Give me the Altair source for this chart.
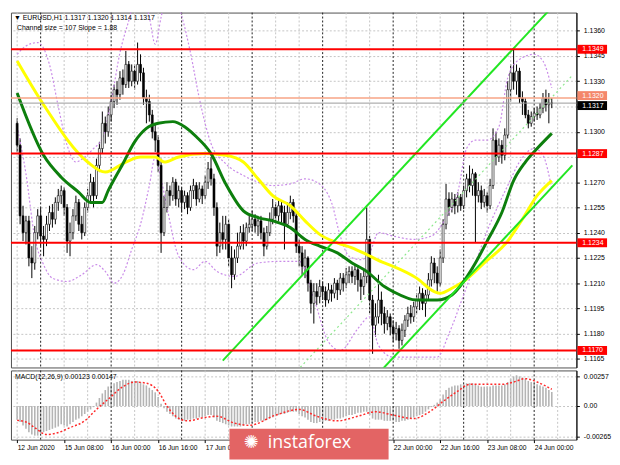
import json
import altair as alt
import pandas as pd

FONT = "Liberation Sans"

# ---------------- price data (EURUSD H1) ----------------
first_open = 1.1305
close = [
    1.1292, 1.1250, 1.1240, 1.1247, 1.1225, 1.1222, 1.1240, 1.1250, 1.1238, 1.1236,
    1.1245, 1.1252, 1.1248, 1.1258, 1.1262, 1.1265, 1.1255, 1.1235, 1.1240, 1.1250,
    1.1258, 1.1245, 1.1240, 1.1255, 1.1262, 1.1270, 1.1262, 1.1280, 1.1290, 1.1305,
    1.1300, 1.1310, 1.1318, 1.1325, 1.1322, 1.1332, 1.1328, 1.1340, 1.1330, 1.1336,
    1.1330, 1.1340, 1.1335, 1.1320, 1.1318, 1.1310, 1.1300, 1.1295, 1.1280, 1.1240,
    1.1255, 1.1265, 1.1262, 1.1270, 1.1260, 1.1265, 1.1258, 1.1262, 1.1255, 1.1265,
    1.1268, 1.1260, 1.1266, 1.1262, 1.1270, 1.1278, 1.1272, 1.1255, 1.1232, 1.1240,
    1.1236, 1.1245, 1.1225, 1.1215, 1.1225, 1.1232, 1.1240, 1.1235, 1.1243, 1.1245,
    1.1248, 1.1244, 1.1247, 1.1240, 1.1232, 1.1240, 1.1248, 1.1255, 1.1250, 1.1256,
    1.1252, 1.1245, 1.1252, 1.1258, 1.1250, 1.1232, 1.1228, 1.1220, 1.1225, 1.1210,
    1.1198, 1.1205, 1.1202, 1.1208, 1.1205, 1.1200, 1.1206, 1.1204, 1.1210, 1.1206,
    1.1213, 1.1210, 1.1215, 1.1217, 1.1214, 1.1218, 1.1212, 1.1208, 1.1214, 1.1236,
    1.1200, 1.1185, 1.1190, 1.1200, 1.1192, 1.1186, 1.1190, 1.1184, 1.1180, 1.1183,
    1.1176, 1.1182, 1.1188, 1.1192, 1.1190, 1.1196, 1.1200, 1.1204, 1.1198, 1.1203,
    1.1212, 1.1222, 1.1216, 1.1210, 1.1225, 1.1245, 1.1260, 1.1255, 1.1260, 1.1256,
    1.1261, 1.1256, 1.1265, 1.1272, 1.1268, 1.1275, 1.1262, 1.1265, 1.1258, 1.1262,
    1.1256, 1.1268, 1.1295, 1.1285, 1.1292, 1.1286, 1.1298, 1.1325, 1.1335, 1.1330,
    1.1336, 1.1320, 1.1318, 1.1310, 1.1305, 1.1309, 1.1311, 1.1310, 1.1314, 1.1320,
    1.1316, 1.1317, 1.1317,
]
high = [
    1.1308, 1.1296, 1.1256, 1.1250, 1.1250, 1.1232, 1.1244, 1.1254, 1.1255, 1.1244,
    1.1250, 1.1256, 1.1257, 1.1261, 1.1266, 1.1268, 1.1267, 1.1257, 1.1246, 1.1254,
    1.1262, 1.1260, 1.1250, 1.1258, 1.1266, 1.1275, 1.1273, 1.1284, 1.1294, 1.1312,
    1.1309, 1.1315, 1.1322, 1.1328, 1.1330, 1.1336, 1.1337, 1.1348, 1.1342, 1.1340,
    1.1340, 1.1353, 1.1346, 1.1338, 1.1325, 1.1322, 1.1313, 1.1304, 1.1298, 1.1284,
    1.1262, 1.1270, 1.1268, 1.1273, 1.1272, 1.1268, 1.1267, 1.1265, 1.1264, 1.1268,
    1.1272, 1.1270, 1.1270, 1.1268, 1.1274, 1.1282, 1.1285, 1.1275, 1.1258, 1.1246,
    1.1250, 1.1250, 1.1248, 1.1232, 1.1230, 1.1240, 1.1244, 1.1245, 1.1246, 1.1250,
    1.1253, 1.1251, 1.1250, 1.1250, 1.1243, 1.1244, 1.1252, 1.1260, 1.1258, 1.1260,
    1.1259, 1.1256, 1.1258, 1.1262, 1.1260, 1.1253, 1.1236, 1.1232, 1.1230, 1.1226,
    1.1212, 1.1210, 1.1210, 1.1212, 1.1211, 1.1208, 1.1210, 1.1209, 1.1213, 1.1212,
    1.1216, 1.1216, 1.1219, 1.1220, 1.1220, 1.1221, 1.1220, 1.1216, 1.1218, 1.1255,
    1.1238, 1.1203, 1.1198, 1.1215, 1.1205, 1.1196, 1.1194, 1.1192, 1.1188, 1.1187,
    1.1185, 1.1186, 1.1191, 1.1196, 1.1197, 1.1199, 1.1204, 1.1208, 1.1207, 1.1206,
    1.1216, 1.1226, 1.1225, 1.1220, 1.1230, 1.1248, 1.1269, 1.1264, 1.1264, 1.1263,
    1.1264, 1.1263, 1.1268, 1.1275, 1.1280, 1.1278, 1.1276, 1.1270, 1.1268, 1.1266,
    1.1264, 1.1272, 1.1302, 1.1300, 1.1296, 1.1295, 1.1302, 1.1330, 1.1340, 1.1349,
    1.1340, 1.1338, 1.1324, 1.1320, 1.1313, 1.1312, 1.1314, 1.1315, 1.1317, 1.1323,
    1.1325, 1.1323, 1.1320,
]
low = [
    1.1288, 1.1245, 1.1235, 1.1233, 1.1220, 1.1213, 1.1218, 1.1236, 1.1232, 1.1226,
    1.1232, 1.1241, 1.1243, 1.1245, 1.1253, 1.1257, 1.1250, 1.1228, 1.1226, 1.1236,
    1.1247, 1.1241, 1.1236, 1.1238, 1.1252, 1.1258, 1.1255, 1.1260, 1.1276, 1.1287,
    1.1293, 1.1297, 1.1306, 1.1314, 1.1316, 1.1319, 1.1322, 1.1326, 1.1326, 1.1327,
    1.1325, 1.1328, 1.1330, 1.1316, 1.1305, 1.1306, 1.1296, 1.1288, 1.1276, 1.1228,
    1.1238, 1.1252, 1.1256, 1.1259, 1.1256, 1.1255, 1.1252, 1.1254, 1.1251, 1.1253,
    1.1260, 1.1256, 1.1258, 1.1257, 1.1260, 1.1266, 1.1268, 1.1250, 1.1226, 1.1228,
    1.1230, 1.1230, 1.1220, 1.1207, 1.1212, 1.1222, 1.1230, 1.1230, 1.1232, 1.1240,
    1.1241, 1.1240, 1.1238, 1.1236, 1.1226, 1.1230, 1.1238, 1.1245, 1.1245, 1.1247,
    1.1246, 1.1230, 1.1243, 1.1248, 1.1246, 1.1228, 1.1220, 1.1215, 1.1213, 1.1205,
    1.1192, 1.1186, 1.1197, 1.1198, 1.1200, 1.1196, 1.1198, 1.1199, 1.1201, 1.1200,
    1.1203, 1.1205, 1.1207, 1.1210, 1.1210, 1.1209, 1.1205, 1.1200, 1.1203, 1.1210,
    1.1192, 1.1168, 1.1178, 1.1186, 1.1185, 1.1180, 1.1182, 1.1179, 1.1175, 1.1176,
    1.1171, 1.1173, 1.1178, 1.1184, 1.1186, 1.1187, 1.1192, 1.1194, 1.1194, 1.1190,
    1.1200, 1.1208, 1.1210, 1.1205, 1.1208, 1.1222, 1.1242, 1.1250, 1.1252, 1.1251,
    1.1252, 1.1253, 1.1254, 1.1261, 1.1264, 1.1262, 1.1234, 1.1258, 1.1254, 1.1255,
    1.1252, 1.1254, 1.1266, 1.1280, 1.1282, 1.1281, 1.1283, 1.1296, 1.1318, 1.1325,
    1.1322, 1.1317, 1.1310, 1.1308, 1.1302, 1.1303, 1.1306, 1.1307, 1.1308, 1.1311,
    1.1312, 1.1305, 1.1314,
]
n_bars = len(close)
assert len(high) == n_bars and len(low) == n_bars

# moving averages (sampled along the curves)
yellow_bars = [0, 9, 24, 30, 37, 42, 47, 50, 55, 64, 71, 77, 82, 87, 93, 98, 103, 109,
               114, 119, 125, 128, 136, 142, 144, 148, 152, 159, 167, 172, 177, 182]
yellow_ma = [1.1342, 1.1316, 1.1282, 1.1276, 1.1282, 1.1285, 1.1285, 1.1282, 1.1285, 1.1287,
             1.1286, 1.1282, 1.1272, 1.1262, 1.1256, 1.1247, 1.1239, 1.1234, 1.1231, 1.1227,
             1.1222, 1.1220, 1.1213, 1.1205, 1.1204, 1.1207, 1.1211, 1.1222, 1.1235, 1.1248,
             1.1262, 1.1271]
green_bars = [0, 9, 15, 21, 25, 29, 31, 36, 40, 44, 48, 53, 57, 61, 66, 71, 77, 82, 87, 93,
              98, 103, 109, 114, 119, 125, 128, 136, 143, 148, 152, 156, 160, 165, 169, 173,
              177, 182]
green_ma = [1.1323, 1.1286, 1.1273, 1.1264, 1.1258, 1.1258, 1.1265, 1.1281, 1.1294, 1.1302,
            1.1305, 1.1306, 1.1303, 1.1297, 1.1287, 1.1269, 1.1253, 1.1249, 1.1247, 1.1243,
            1.1236, 1.1232, 1.1228, 1.1222, 1.1217, 1.1208, 1.1205, 1.1200, 1.1200, 1.1203,
            1.1211, 1.1222, 1.1235, 1.1252, 1.1271, 1.1282, 1.1290, 1.1299]

# bands (violet dotted)
upper_band_bars = [0, 3, 7, 11, 14, 17, 20, 23, 26, 29, 32, 35, 38, 40, 43, 45, 47, 49, 51, 54,
                   56, 59, 62, 66, 71, 77, 82, 87, 93, 98, 102, 107, 110, 113, 117, 120, 123,
                   128, 135, 141, 146, 150, 153, 156, 160, 164, 167, 171, 176, 179, 182]
upper_band = [1.1346, 1.1351, 1.1353, 1.1340, 1.1315, 1.1292, 1.1282, 1.1285, 1.1290, 1.1296,
              1.1318, 1.1347, 1.1366, 1.1378, 1.1380, 1.1368, 1.1352, 1.1368, 1.1382, 1.1380,
              1.1369, 1.1347, 1.1320, 1.1293, 1.1281, 1.1274, 1.1270, 1.1268, 1.1269, 1.1272,
              1.1270, 1.1258, 1.1238, 1.1226, 1.1224, 1.1228, 1.1240, 1.1238, 1.1236, 1.1238,
              1.1249, 1.1264, 1.1290, 1.1295, 1.1295, 1.1303, 1.1332, 1.1343, 1.1346, 1.1342,
              1.1326]
lower_band_bars = [0, 3, 6, 9, 12, 17, 22, 27, 30, 33, 36, 39, 42, 45, 47, 49, 51, 55, 60, 64,
                   68, 74, 82, 90, 96, 101, 106, 110, 116, 120, 123, 128, 143, 147, 152, 156,
                   160, 167, 171, 176, 179, 182]
lower_band = [1.1303, 1.1275, 1.1237, 1.1221, 1.1213, 1.1211, 1.1215, 1.1221, 1.1217, 1.1210,
              1.1215, 1.1230, 1.1245, 1.1268, 1.1285, 1.1272, 1.1255, 1.1226, 1.1218, 1.1223,
              1.1217, 1.1214, 1.1222, 1.1223, 1.1223, 1.1201, 1.1175, 1.1170, 1.1183, 1.1190,
              1.1173, 1.1166, 1.1166, 1.1180, 1.1203, 1.1222, 1.1241, 1.1268, 1.1282, 1.1290,
              1.1286, 1.1266]

# regression channel (size 107 pips, slope 1.88)
channel_bars = [70, 189]
channel_lower = [1.1057, 1.1280]
channel_upper = [1.1164, 1.1387]
channel_mid = [1.11105, 1.13335]

# horizontal levels
red_levels = [1.1349, 1.1287, 1.1234, 1.1170]
ask_price = 1.1320
bid_price = 1.1317

# MACD(12,26,9)
macd_hist = [
    -0.0012, -0.0014, -0.0017, -0.0020, -0.0023, -0.0025, -0.0026, -0.0026, -0.0024, -0.0023,
    -0.0022, -0.0021, -0.0020, -0.0019, -0.0018, -0.0016, -0.0017, -0.0018, -0.0016, -0.0014,
    -0.0012, -0.0011, -0.0009, -0.0007, -0.0005, -0.0003, -0.0001, 0.0003, 0.0007, 0.0011,
    0.0014, 0.0017, 0.0019, 0.0020, 0.0021, 0.0022, 0.0023, 0.0023, 0.0023, 0.0022,
    0.0022, 0.0022, 0.0021, 0.0019, 0.0018, 0.0016, 0.0014, 0.0012, 0.0008, 0.0002,
    -0.0002, -0.0005, -0.0007, -0.0009, -0.0011, -0.0012, -0.0013, -0.0013, -0.0012, -0.0012,
    -0.0011, -0.0011, -0.0010, -0.0010, -0.0009, -0.0008, -0.0008, -0.0010, -0.0013, -0.0014,
    -0.0015, -0.0016, -0.0017, -0.0018, -0.0018, -0.0018, -0.0018, -0.0017, -0.0016, -0.0016,
    -0.0015, -0.0014, -0.0014, -0.0013, -0.0013, -0.0012, -0.0011, -0.0010, -0.0009, -0.0008,
    -0.0007, -0.0007, -0.0006, -0.0005, -0.0005, -0.0005, -0.0007, -0.0009, -0.0010, -0.0012,
    -0.0014, -0.0015, -0.0015, -0.0014, -0.0014, -0.0013, -0.0013, -0.0012, -0.0012, -0.0011,
    -0.0011, -0.0010, -0.0009, -0.0008, -0.0008, -0.0007, -0.0006, -0.0006, -0.0005, -0.0005,
    -0.0008, -0.0011, -0.0012, -0.0012, -0.0012, -0.0013, -0.0013, -0.0013, -0.0013, -0.0014,
    -0.0014, -0.0013, -0.0013, -0.0012, -0.0011, -0.0010, -0.0009, -0.0008, -0.0007, -0.0005,
    -0.0003, -0.0001, 0.0001, 0.0003, 0.0006, 0.0010, 0.0014, 0.0016, 0.0017, 0.0018,
    0.0018, 0.0019, 0.0019, 0.0020, 0.0020, 0.0020, 0.0019, 0.0018, 0.0017, 0.0017,
    0.0017, 0.0017, 0.0018, 0.0018, 0.0018, 0.0018, 0.0019, 0.0021, 0.0024, 0.0026,
    0.0027, 0.0026, 0.0025, 0.0024, 0.0022, 0.0021, 0.0020, 0.0019, 0.0018, 0.0017,
    0.0016, 0.0014, 0.00123,
]
assert len(macd_hist) == n_bars
signal_bars = [0, 3, 6, 10, 13, 18, 23, 27, 31, 36, 40, 44, 48, 51, 54, 58, 64, 68, 74, 79,
               88, 96, 102, 109, 116, 122, 128, 135, 141, 145, 150, 154, 159, 165, 169, 173,
               177, 182]
signal_vals = [-0.00126, -0.0014, -0.0019, -0.0025, -0.0024, -0.0019, -0.0013, -0.0003, 0.0006,
               0.0017, 0.0021, 0.0020, 0.0013, 0.0000, -0.0009, -0.0013, -0.0010, -0.0009,
               -0.0015, -0.0017, -0.0008, -0.0003, -0.0009, -0.0013, -0.0009, -0.0005, -0.0008,
               -0.0011, -0.0004, 0.0004, 0.0013, 0.0019, 0.0019, 0.0019, 0.0021, 0.0024, 0.0021,
               0.00147]

# axes (labels covered by price tags / watermark in the reference are left blank)
y_ticks = [1.1165, 1.1180, 1.1195, 1.1210, 1.1225, 1.1240, 1.1255, 1.1270, 1.1285, 1.1300,
           1.1315, 1.1330, 1.1345, 1.1360]
y_hidden = [1.1285, 1.1315]
macd_ticks = [-0.00265, 0.0, 0.00257]
macd_tick_labels = ["-0.00265", "0.00", "0.00257"]
x_label_bars = [0, 16, 32, 48, 64, 128, 144, 160, 176]
x_labels = ["12 Jun 2020", "15 Jun 08:00", "16 Jun 00:00", "16 Jun 16:00", "17 Jun 08:00",
            "22 Jun 00:00", "22 Jun 16:00", "23 Jun 08:00", "24 Jun 00:00"]
grid_bars = [0, 16, 24, 40, 48, 64, 72, 88, 96, 112, 120, 136, 144, 160, 168, 184]
separator_bars = [8, 32, 56, 80, 104, 128, 152, 176]

header_text = "\u25bc EURUSD,H1  1.1317 1.1320 1.1314 1.1317"
channel_text = "Channel size = 107 Slope = 1.88"
macd_text = "MACD(12,26,9) 0.00123 0.00147"
watermark_text = "instaforex"

price_domain = [1.11599, 1.13708]
bar_domain = [-0.42, 188.7]
macd_domain = [-0.00295, 0.00312]

# ---------------- layout ----------------
W, H1, H2 = 572, 359, 70

opens = [first_open] + close[:-1]
cdf = pd.DataFrame({"bar": list(range(n_bars)), "open": opens, "high": high,
                    "low": low, "close": close})

xs = alt.Scale(domain=bar_domain, nice=False, zero=False)
ys = alt.Scale(domain=price_domain, nice=False, zero=False)
ms = alt.Scale(domain=macd_domain, nice=False, zero=False)

y_expr = (f"indexof({json.dumps(y_hidden)}, round(datum.value * 10000) / 10000) >= 0"
          " ? '' : format(datum.value, '.4f')")
y_axis = alt.Axis(orient="right", values=y_ticks, labelExpr=y_expr, title=None, grid=True,
                  gridColor="#c4c4c4", gridDash=[2, 2], gridWidth=1, domain=True,
                  domainColor="#000000", ticks=True, tickSize=3, tickColor="#000000",
                  labelPadding=4, labelFont=FONT, labelFontSize=7, labelColor="#000000",
                  labelOverlap=False, labelFlush=False, labelBound=False)


def X(field="bar"):
    return alt.X(f"{field}:Q", scale=xs, axis=None)


def Yp(field):
    return alt.Y(f"{field}:Q", scale=ys, axis=y_axis)


vgrid = alt.Chart(pd.DataFrame({"bar": grid_bars})).mark_rule(
    color="#c4c4c4", strokeDash=[2, 2], strokeWidth=1).encode(x=X())
seps = alt.Chart(pd.DataFrame({"bar": separator_bars})).mark_rule(
    color="#202020", strokeDash=[2, 2], strokeWidth=1).encode(x=X())

band_df = pd.concat([
    pd.DataFrame({"bar": upper_band_bars, "price": upper_band, "line": "upper"}),
    pd.DataFrame({"bar": lower_band_bars, "price": lower_band, "line": "lower"}),
])
bands = alt.Chart(band_df).mark_line(
    color="#c98be8", strokeDash=[2, 2], strokeWidth=1.2, clip=True, interpolate="monotone"
).encode(x=X(), y=Yp("price"), detail="line:N")

wicks = alt.Chart(cdf).mark_rule(color="#000000", strokeWidth=1).encode(
    x=X(), y=Yp("low"), y2="high:Q")
bodies = alt.Chart(cdf).mark_bar(size=2, stroke="#000000", strokeWidth=0.6).encode(
    x=X(), y=Yp("open"), y2="close:Q",
    fill=alt.condition("datum.close >= datum.open", alt.value("#ffffff"), alt.value("#000000")))

yellow = alt.Chart(pd.DataFrame({"bar": yellow_bars, "price": yellow_ma})).mark_line(
    color="#ffff00", strokeWidth=3, clip=True, interpolate="monotone").encode(x=X(), y=Yp("price"))
green = alt.Chart(pd.DataFrame({"bar": green_bars, "price": green_ma})).mark_line(
    color="#0d7f0d", strokeWidth=3, clip=True, interpolate="monotone").encode(x=X(), y=Yp("price"))

chan_df = pd.concat([
    pd.DataFrame({"bar": channel_bars, "price": channel_lower, "line": "lower"}),
    pd.DataFrame({"bar": channel_bars, "price": channel_upper, "line": "upper"}),
])
chan = alt.Chart(chan_df).mark_line(color="#22e622", strokeWidth=2, clip=True).encode(
    x=X(), y=Yp("price"), detail="line:N")
chan_mid = alt.Chart(pd.DataFrame({"bar": channel_bars, "price": channel_mid})).mark_line(
    color="#8ee88e", strokeDash=[2, 3], strokeWidth=1.2, clip=True).encode(x=X(), y=Yp("price"))

red = alt.Chart(pd.DataFrame({"price": red_levels})).mark_rule(
    color="#ff0000", strokeWidth=2).encode(y=Yp("price"))
ask = alt.Chart(pd.DataFrame({"price": [ask_price]})).mark_rule(
    color="#f7a486", strokeWidth=1.5).encode(y=Yp("price"))
bid = alt.Chart(pd.DataFrame({"price": [bid_price]})).mark_rule(
    color="#9a9a9a", strokeWidth=1).encode(y=Yp("price"))

# price tags on the right
red_df = pd.DataFrame({"price": red_levels, "label": [f"{p:.4f}" for p in red_levels]})
ask_df = pd.DataFrame({"price": [ask_price], "label": [f"{ask_price:.4f}"]})
bid_df = pd.DataFrame({"price": [bid_price], "label": [f"{bid_price:.4f}"]})


def tag(df, bg, off):
    box = alt.Chart(df).mark_rule(strokeWidth=9, strokeCap="butt", color=bg, yOffset=off).encode(
        x=alt.value(W + 1), x2=alt.value(W + 31), y=Yp("price"))
    txt = alt.Chart(df).mark_text(align="left", baseline="middle", font=FONT, fontSize=7,
                                  color="#ffffff", dy=off).encode(
        x=alt.value(W + 6), y=Yp("price"), text="label:N")
    return box, txt


red_box, red_txt = tag(red_df, "#ff0000", 0)
ask_box, ask_txt = tag(ask_df, "#f4876a", -2.5)
bid_box, bid_txt = tag(bid_df, "#000000", 2.5)

head1 = alt.Chart(pd.DataFrame({"t": [header_text]})).mark_text(
    align="left", baseline="middle", font=FONT, fontSize=7, color="#000000").encode(
    x=alt.value(3), y=alt.value(5), text="t:N")
head2 = alt.Chart(pd.DataFrame({"t": [channel_text]})).mark_text(
    align="left", baseline="middle", font=FONT, fontSize=7, color="#000000").encode(
    x=alt.value(6), y=alt.value(16), text="t:N")

main = alt.layer(
    wicks, vgrid, seps, bands, bodies, yellow, green, chan, chan_mid,
    red, ask, bid, red_box, red_txt, ask_box, ask_txt, bid_box, bid_txt, head1, head2
).properties(width=W, height=H1)

# ---------------- MACD panel ----------------
xs2 = alt.Scale(domain=bar_domain, nice=False, zero=False)
x_expr = f"{json.dumps(x_labels)}[indexof({json.dumps(x_label_bars)}, datum.value)]"
m_expr = f"{json.dumps(macd_tick_labels)}[indexof({json.dumps(macd_ticks)}, datum.value)]"
x_axis = alt.Axis(values=x_label_bars, labelExpr=x_expr, title=None, grid=False, domain=False,
                  ticks=True, tickSize=3, tickColor="#000000", labelAlign="left",
                  labelBaseline="top", labelPadding=2, labelFont=FONT, labelFontSize=6.8,
                  labelColor="#000000", labelOverlap=False, labelFlush=False, labelBound=False)
m_axis = alt.Axis(orient="right", values=macd_ticks, labelExpr=m_expr, title=None, grid=True,
                  gridColor="#c4c4c4", gridDash=[2, 2], domain=True, domainColor="#000000",
                  ticks=True, tickSize=3, tickColor="#000000", labelPadding=4, labelFont=FONT,
                  labelFontSize=7, labelColor="#000000", labelOverlap=False, labelFlush=False,
                  labelBound=False)


def X2():
    return alt.X("bar:Q", scale=xs2, axis=x_axis)


def Ym(field):
    return alt.Y(f"{field}:Q", scale=ms, axis=m_axis)


mdf = pd.DataFrame({"bar": list(range(n_bars)), "hist": macd_hist, "zero": [0.0] * n_bars})
hist = alt.Chart(mdf).mark_bar(size=1.6, color="#b4b4b4").encode(
    x=X2(), y=Ym("hist"), y2="zero:Q")
mvgrid = alt.Chart(pd.DataFrame({"bar": grid_bars})).mark_rule(
    color="#c4c4c4", strokeDash=[2, 2], strokeWidth=1).encode(x=X2())
mseps = alt.Chart(pd.DataFrame({"bar": separator_bars})).mark_rule(
    color="#202020", strokeDash=[2, 2], strokeWidth=1).encode(x=X2())
signal = alt.Chart(pd.DataFrame({"bar": signal_bars, "v": signal_vals})).mark_line(
    color="#ff2a2a", strokeDash=[2, 2], strokeWidth=1.5, interpolate="monotone").encode(
    x=X2(), y=Ym("v"))
mlabel = alt.Chart(pd.DataFrame({"t": [macd_text]})).mark_text(
    align="left", baseline="middle", font=FONT, fontSize=7, color="#000000").encode(
    x=alt.value(4), y=alt.value(7), text="t:N")

wm_rect = alt.Chart(pd.DataFrame({"t": [watermark_text]})).mark_rect(color="#e36464").encode(
    x=alt.value(221), x2=alt.value(382), y=alt.value(59), y2=alt.value(90))
wm_text = alt.Chart(pd.DataFrame({"t": [watermark_text]})).mark_text(
    align="center", baseline="middle", font="Open Sans", fontSize=18, color="#ffffff").encode(
    x=alt.value(302), y=alt.value(73), text="t:N")
wm_icon = alt.Chart(pd.DataFrame({"t": ["\u273a"]})).mark_text(
    align="center", baseline="middle", font="DejaVu Sans", fontSize=18, color="#ffffff").encode(
    x=alt.value(243), y=alt.value(73), text="t:N")

macd = alt.layer(hist, mvgrid, mseps, signal, mlabel, wm_rect, wm_text, wm_icon).properties(
    width=W, height=H2)

chart = alt.vconcat(main, macd, spacing=1).properties(
    padding={"left": 1, "top": 1, "right": 0, "bottom": 0}, background="#ffffff"
).configure_view(stroke="#505050", strokeWidth=1)

chart.save("out.html", embed_options={"renderer": "svg", "actions": False})
